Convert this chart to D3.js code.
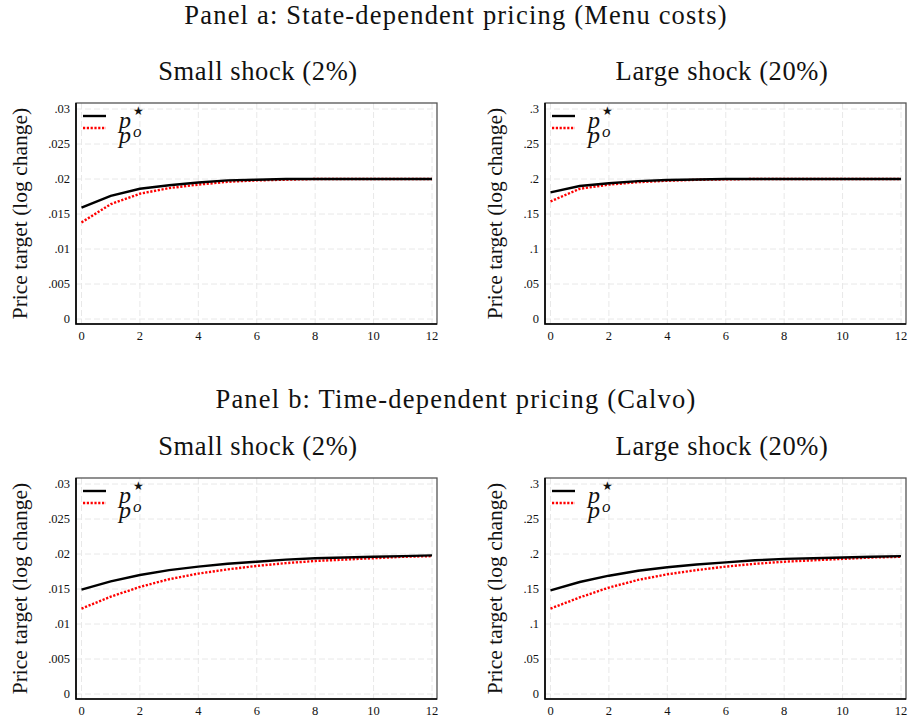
<!DOCTYPE html>
<html>
<head>
<meta charset="utf-8">
<script src="https://cdn.jsdelivr.net/npm/d3@7"></script>
<style>
body { margin: 0; background: #fff; }
svg text { font-family: "Liberation Serif", "Times New Roman", serif; fill: #111; }
</style>
</head>
<body>
<div id="chart"></div>
<script>
// horizon (quarters after the shock)
var periods = [0, 1, 2, 3, 4, 5, 6, 7, 8, 9, 10, 11, 12];

// Panel a: menu costs
var menuSmallStar = [0.0159, 0.0176, 0.0186, 0.0191, 0.0195, 0.0198, 0.0199, 0.0200, 0.0200, 0.0200, 0.0200, 0.0200, 0.0200];
var menuSmallO    = [0.0138, 0.0164, 0.0179, 0.0187, 0.0192, 0.0196, 0.0198, 0.0199, 0.0200, 0.0200, 0.0200, 0.0200, 0.0200];
var menuLargeStar = [0.181, 0.190, 0.194, 0.197, 0.1985, 0.1993, 0.200, 0.200, 0.200, 0.200, 0.200, 0.200, 0.200];
var menuLargeO    = [0.168, 0.186, 0.192, 0.1955, 0.1975, 0.1988, 0.1995, 0.200, 0.200, 0.200, 0.200, 0.200, 0.200];

// Panel b: Calvo
var calvoSmallStar = [0.0149, 0.0161, 0.0170, 0.0177, 0.0182, 0.0186, 0.0189, 0.0192, 0.0194, 0.0195, 0.0196, 0.0197, 0.0198];
var calvoSmallO    = [0.0122, 0.0139, 0.0153, 0.0164, 0.0172, 0.0178, 0.0183, 0.0187, 0.0190, 0.0192, 0.0194, 0.0196, 0.0197];
var calvoLargeStar = [0.148, 0.160, 0.169, 0.176, 0.181, 0.185, 0.188, 0.191, 0.193, 0.194, 0.195, 0.196, 0.197];
var calvoLargeO    = [0.122, 0.138, 0.152, 0.163, 0.171, 0.177, 0.182, 0.186, 0.189, 0.191, 0.193, 0.195, 0.196];

var xTicks = [0, 2, 4, 6, 8, 10, 12];
var smallTicks = [0, 0.005, 0.01, 0.015, 0.02, 0.025, 0.03];
var largeTicks = [0, 0.05, 0.1, 0.15, 0.2, 0.25, 0.3];
var smallTickLabels = ["0", ".005", ".01", ".015", ".02", ".025", ".03"];
var largeTickLabels = ["0", ".05", ".1", ".15", ".2", ".25", ".3"];

var panelTitles = ["Panel a: State-dependent pricing (Menu costs)", "Panel b: Time-dependent pricing (Calvo)"];
var shockTitles = ["Small shock (2%)", "Large shock (20%)"];

var width = 910, height = 721;
var serif = "'Liberation Serif', 'Times New Roman', serif";

var svg = d3.select("#chart").append("svg")
    .attr("width", width)
    .attr("height", height);

var charts = [
    {left: 76, top: 103, star: menuSmallStar, o: menuSmallO, ticks: smallTicks, labels: smallTickLabels, max: 0.03},
    {left: 545, top: 103, star: menuLargeStar, o: menuLargeO, ticks: largeTicks, labels: largeTickLabels, max: 0.3},
    {left: 76, top: 478, star: calvoSmallStar, o: calvoSmallO, ticks: smallTicks, labels: smallTickLabels, max: 0.03},
    {left: 545, top: 478, star: calvoLargeStar, o: calvoLargeO, ticks: largeTicks, labels: largeTickLabels, max: 0.3}
];

var frameW = 361, frameH = 221;

// panel titles
svg.selectAll(".panel-title")
    .data(panelTitles)
    .enter().append("text")
    .attr("class", "panel-title")
    .attr("x", 456)
    .attr("y", function (d, i) { return i === 0 ? 24 : 408; })
    .attr("text-anchor", "middle")
    .style("font-family", serif)
    .style("font-size", "26.5px")
    .style("letter-spacing", "1.2px")
    .text(function (d) { return d; });

charts.forEach(function (c, i) {
    var g = svg.append("g")
        .attr("transform", "translate(" + c.left + "," + c.top + ")");

    var x = d3.scaleLinear().domain([0, 12]).range([5.5, frameW - 5]);
    var y = d3.scaleLinear().domain([0, c.max]).range([frameH - 5, 6]);

    // shock title
    svg.append("text")
        .attr("x", c.left + (i % 2 === 0 ? 182 : 177))
        .attr("y", c.top - 23)
        .attr("text-anchor", "middle")
        .style("font-family", serif)
        .style("font-size", "26.5px")
        .style("letter-spacing", "0.6px")
        .text(shockTitles[i % 2]);

    // grid
    g.selectAll(".vgrid")
        .data(xTicks)
        .enter().append("line")
        .attr("x1", function (d) { return x(d); })
        .attr("x2", function (d) { return x(d); })
        .attr("y1", 0)
        .attr("y2", frameH)
        .attr("stroke", "#e8e8e8")
        .attr("stroke-dasharray", "6,3");

    g.selectAll(".hgrid")
        .data(c.ticks)
        .enter().append("line")
        .attr("x1", 0)
        .attr("x2", frameW)
        .attr("y1", function (d) { return y(d); })
        .attr("y2", function (d) { return y(d); })
        .attr("stroke", "#e8e8e8")
        .attr("stroke-dasharray", "6,3");

    // frame
    g.append("rect")
        .attr("width", frameW)
        .attr("height", frameH)
        .attr("fill", "none")
        .attr("stroke", "#555")
        .attr("stroke-width", 1.3);

    g.append("path")
        .attr("d", "M0,0V" + frameH + "H" + frameW)
        .attr("fill", "none")
        .attr("stroke", "#000")
        .attr("stroke-width", 1.6);

    // x tick labels
    g.selectAll(".xlab")
        .data(xTicks)
        .enter().append("text")
        .attr("x", function (d) { return x(d); })
        .attr("y", frameH + 16)
        .attr("text-anchor", "middle")
        .style("font-family", serif)
        .style("font-size", "12.5px")
        .text(function (d) { return d; });

    // y tick labels
    g.selectAll(".ylab")
        .data(c.ticks)
        .enter().append("text")
        .attr("x", -6)
        .attr("y", function (d) { return y(d); })
        .attr("dy", "0.35em")
        .attr("text-anchor", "end")
        .style("font-family", serif)
        .style("font-size", "12.5px")
        .text(function (d, j) { return c.labels[j]; });

    // y axis title
    svg.append("text")
        .attr("transform", "translate(" + (c.left - (i % 2 === 0 ? 49 : 43)) + "," + (c.top + frameH / 2) + ") rotate(-90)")
        .attr("text-anchor", "middle")
        .style("font-family", serif)
        .style("font-size", "21.5px")
        .text("Price target (log change)");

    var line = d3.line()
        .x(function (d, j) { return x(periods[j]); })
        .y(function (d) { return y(d); });

    g.append("path")
        .datum(c.o)
        .attr("d", line)
        .attr("fill", "none")
        .attr("stroke", "#ff0000")
        .attr("stroke-width", 2.4)
        .attr("stroke-dasharray", "2.2,1.6");

    g.append("path")
        .datum(c.star)
        .attr("d", line)
        .attr("fill", "none")
        .attr("stroke", "#000")
        .attr("stroke-width", 2.4);

    // legend
    g.append("line")
        .attr("x1", 7).attr("x2", 30)
        .attr("y1", 13).attr("y2", 13)
        .attr("stroke", "#000")
        .attr("stroke-width", 2.4);
    g.append("line")
        .attr("x1", 7).attr("x2", 30)
        .attr("y1", 25).attr("y2", 25)
        .attr("stroke", "#ff0000")
        .attr("stroke-width", 2.4)
        .attr("stroke-dasharray", "2.2,1.6");

    var t1 = g.append("text")
        .attr("x", 43).attr("y", 25)
        .style("font-family", serif)
        .style("font-size", "24px");
    t1.append("tspan").style("font-style", "italic").text("p");
    t1.append("tspan")
        .attr("dx", 2)
        .attr("dy", -13)
        .style("font-size", "12px")
        .style("font-family", "'DejaVu Sans', sans-serif")
        .text("\u2605");

    var t2 = g.append("text")
        .attr("x", 43).attr("y", 40)
        .style("font-family", serif)
        .style("font-size", "24px");
    t2.append("tspan").style("font-style", "italic").text("p");
    t2.append("tspan")
        .attr("dx", 2)
        .attr("dy", -6)
        .style("font-size", "17px")
        .style("font-style", "italic")
        .text("o");
});
</script>
</body>
</html>
